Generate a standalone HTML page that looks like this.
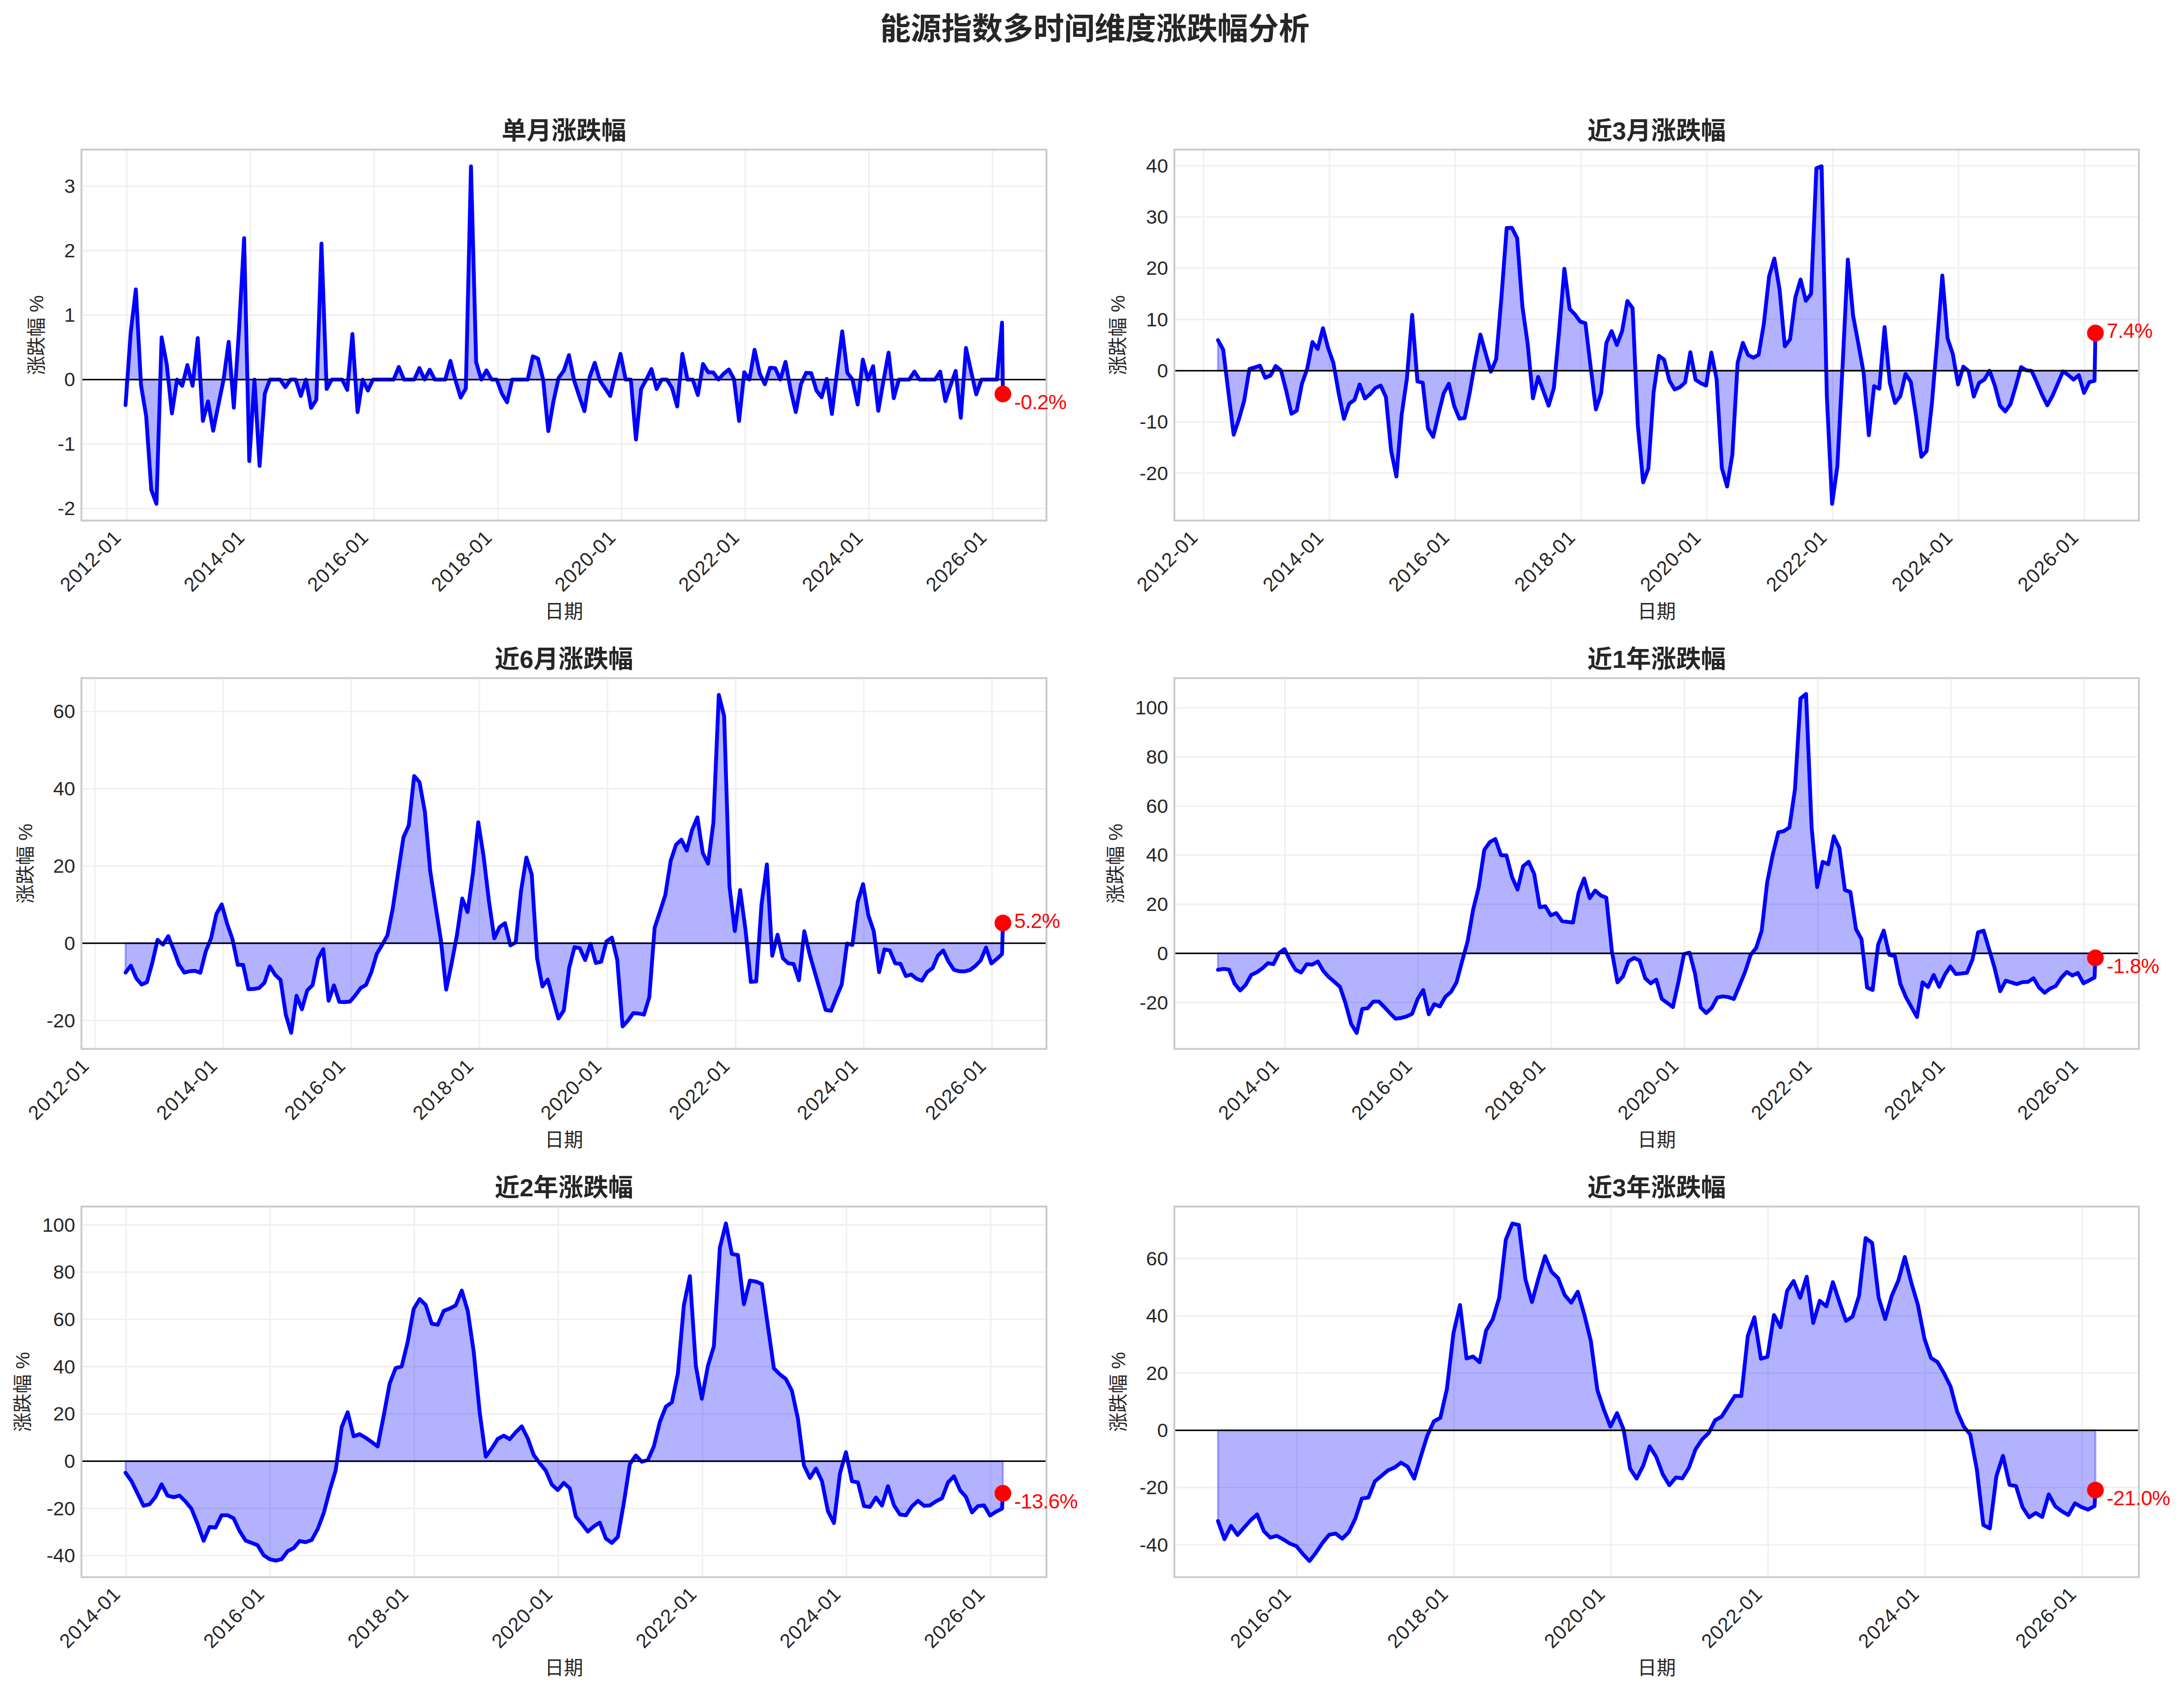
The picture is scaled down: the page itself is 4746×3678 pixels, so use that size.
<!DOCTYPE html><html><head><meta charset="utf-8"><title>能源指数多时间维度涨跌幅分析</title>
<style>html,body{margin:0;padding:0;background:#fff}svg{display:block}text{font-family:"Liberation Sans","Noto Sans CJK SC",sans-serif;fill:#262626}.b{font-weight:bold}.r{fill:#ff0000}</style></head><body>
<svg width="4746" height="3678" viewBox="0 0 4746 3678">
<rect width="4746" height="3678" fill="#fff"/>
<text class="b" x="2379" y="86" font-size="66.67" text-anchor="middle">能源指数多时间维度涨跌幅分析</text>
<g id="chart1">
<path d="M275.5 325.0V1130.9M544.4 325.0V1130.9M813.0 325.0V1130.9M1081.9 325.0V1130.9M1350.5 325.0V1130.9M1619.4 325.0V1130.9M1888.0 325.0V1130.9M2156.9 325.0V1130.9M177.0 1104.6H2274.1M177.0 964.6H2274.1M177.0 824.6H2274.1M177.0 684.6H2274.1M177.0 544.6H2274.1M177.0 404.6H2274.1" stroke="#cccccc" stroke-opacity="0.3" stroke-width="3.33" fill="none"/>
<polygon points="272.8,824.6 272.8,880.2 284.0,722.8 295.2,628.6 306.4,836.2 317.6,903.6 328.8,1064.3 340.0,1094.5 351.2,733.0 362.4,792.1 373.6,898.1 384.8,824.6 396.0,838.3 407.2,793.0 418.5,838.3 429.7,734.4 440.9,914.5 452.1,871.9 463.3,935.8 474.5,879.9 485.7,825.7 496.9,742.7 508.1,885.6 519.3,717.8 530.5,517.4 541.7,1001.7 552.9,824.6 564.1,1012.2 575.3,855.4 586.5,824.6 597.7,824.6 608.9,824.6 620.1,841.1 631.3,824.6 642.5,824.6 653.7,860.3 664.9,824.6 676.1,886.2 687.4,868.6 698.6,529.2 709.8,845.2 721.0,824.6 732.2,824.6 743.4,824.6 754.6,847.0 765.8,725.6 777.0,895.3 788.2,824.6 799.4,848.4 810.6,824.6 821.8,824.6 833.0,824.6 844.2,824.6 855.4,824.6 866.6,797.2 877.8,824.6 889.0,824.6 900.2,824.6 911.4,799.5 922.6,824.6 933.8,803.2 945.0,824.6 956.3,824.6 967.5,824.6 978.7,784.0 989.9,826.6 1001.1,863.7 1012.3,843.9 1023.5,361.3 1034.7,786.7 1045.9,824.6 1057.1,804.6 1068.3,824.6 1079.5,824.6 1090.7,855.4 1101.9,873.9 1113.1,824.6 1124.3,824.6 1135.5,824.6 1146.7,824.6 1157.9,774.2 1169.1,779.0 1180.3,824.6 1191.5,936.6 1202.7,871.9 1213.9,821.1 1225.2,805.4 1236.4,771.5 1247.6,826.6 1258.8,861.0 1270.0,893.2 1281.2,819.7 1292.4,788.1 1303.6,826.6 1314.8,843.5 1326.0,860.3 1337.2,812.3 1348.4,768.7 1359.6,824.6 1370.8,824.6 1382.0,954.9 1393.2,845.2 1404.4,824.6 1415.6,801.8 1426.8,845.2 1438.0,824.6 1449.2,824.6 1460.4,842.8 1471.6,883.0 1482.8,768.7 1494.0,824.6 1505.3,824.6 1516.5,858.2 1527.7,790.7 1538.9,808.6 1550.1,809.2 1561.3,824.6 1572.5,812.0 1583.7,802.6 1594.9,823.2 1606.1,914.5 1617.3,808.6 1628.5,824.6 1639.7,759.9 1650.9,811.4 1662.1,834.8 1673.3,799.0 1684.5,799.8 1695.7,824.6 1706.9,786.1 1718.1,847.0 1729.3,895.3 1740.5,834.8 1751.7,810.0 1762.9,810.6 1774.2,848.4 1785.4,863.1 1796.6,823.2 1807.8,899.4 1819.0,807.5 1830.2,720.0 1841.4,810.0 1852.6,824.6 1863.8,878.8 1875.0,781.2 1886.2,824.6 1897.4,795.5 1908.6,892.5 1919.8,827.4 1931.0,766.1 1942.2,865.1 1953.4,824.6 1964.6,824.6 1975.8,824.6 1987.0,807.2 1998.2,824.6 2009.4,824.6 2020.6,824.6 2031.8,824.6 2043.1,807.2 2054.3,871.4 2065.5,837.8 2076.7,805.8 2087.9,907.6 2099.1,755.9 2110.3,807.0 2121.5,856.8 2132.7,824.6 2143.9,824.6 2155.1,824.6 2166.3,824.6 2177.5,700.8 2179.4,856.0 2179.4,824.6" fill="#0000ff" fill-opacity="0.3" stroke="#0000ff" stroke-opacity="0.3" stroke-width="4.17" stroke-linejoin="round"/>
<polyline points="272.8,880.2 284.0,722.8 295.2,628.6 306.4,836.2 317.6,903.6 328.8,1064.3 340.0,1094.5 351.2,733.0 362.4,792.1 373.6,898.1 384.8,824.6 396.0,838.3 407.2,793.0 418.5,838.3 429.7,734.4 440.9,914.5 452.1,871.9 463.3,935.8 474.5,879.9 485.7,825.7 496.9,742.7 508.1,885.6 519.3,717.8 530.5,517.4 541.7,1001.7 552.9,824.6 564.1,1012.2 575.3,855.4 586.5,824.6 597.7,824.6 608.9,824.6 620.1,841.1 631.3,824.6 642.5,824.6 653.7,860.3 664.9,824.6 676.1,886.2 687.4,868.6 698.6,529.2 709.8,845.2 721.0,824.6 732.2,824.6 743.4,824.6 754.6,847.0 765.8,725.6 777.0,895.3 788.2,824.6 799.4,848.4 810.6,824.6 821.8,824.6 833.0,824.6 844.2,824.6 855.4,824.6 866.6,797.2 877.8,824.6 889.0,824.6 900.2,824.6 911.4,799.5 922.6,824.6 933.8,803.2 945.0,824.6 956.3,824.6 967.5,824.6 978.7,784.0 989.9,826.6 1001.1,863.7 1012.3,843.9 1023.5,361.3 1034.7,786.7 1045.9,824.6 1057.1,804.6 1068.3,824.6 1079.5,824.6 1090.7,855.4 1101.9,873.9 1113.1,824.6 1124.3,824.6 1135.5,824.6 1146.7,824.6 1157.9,774.2 1169.1,779.0 1180.3,824.6 1191.5,936.6 1202.7,871.9 1213.9,821.1 1225.2,805.4 1236.4,771.5 1247.6,826.6 1258.8,861.0 1270.0,893.2 1281.2,819.7 1292.4,788.1 1303.6,826.6 1314.8,843.5 1326.0,860.3 1337.2,812.3 1348.4,768.7 1359.6,824.6 1370.8,824.6 1382.0,954.9 1393.2,845.2 1404.4,824.6 1415.6,801.8 1426.8,845.2 1438.0,824.6 1449.2,824.6 1460.4,842.8 1471.6,883.0 1482.8,768.7 1494.0,824.6 1505.3,824.6 1516.5,858.2 1527.7,790.7 1538.9,808.6 1550.1,809.2 1561.3,824.6 1572.5,812.0 1583.7,802.6 1594.9,823.2 1606.1,914.5 1617.3,808.6 1628.5,824.6 1639.7,759.9 1650.9,811.4 1662.1,834.8 1673.3,799.0 1684.5,799.8 1695.7,824.6 1706.9,786.1 1718.1,847.0 1729.3,895.3 1740.5,834.8 1751.7,810.0 1762.9,810.6 1774.2,848.4 1785.4,863.1 1796.6,823.2 1807.8,899.4 1819.0,807.5 1830.2,720.0 1841.4,810.0 1852.6,824.6 1863.8,878.8 1875.0,781.2 1886.2,824.6 1897.4,795.5 1908.6,892.5 1919.8,827.4 1931.0,766.1 1942.2,865.1 1953.4,824.6 1964.6,824.6 1975.8,824.6 1987.0,807.2 1998.2,824.6 2009.4,824.6 2020.6,824.6 2031.8,824.6 2043.1,807.2 2054.3,871.4 2065.5,837.8 2076.7,805.8 2087.9,907.6 2099.1,755.9 2110.3,807.0 2121.5,856.8 2132.7,824.6 2143.9,824.6 2155.1,824.6 2166.3,824.6 2177.5,700.8 2179.4,856.0" fill="none" stroke="#0000ff" stroke-width="8.33" stroke-linejoin="round" stroke-linecap="round"/>
<path d="M177.0 824.6H2274.1" stroke="#000" stroke-width="3.33"/>
<rect x="177.0" y="325.0" width="2097.1" height="805.9" fill="none" stroke="#cccccc" stroke-width="4.17"/>
<circle cx="2179.4" cy="856.0" r="18.2" fill="#ff0000"/>
<text class="r" x="2203.9" y="889.2" font-size="44.8" letter-spacing="-0.7">-0.2%</text>
<text x="163.4" y="1119.2" font-size="43.0" text-anchor="end">-2</text>
<text x="163.4" y="979.2" font-size="43.0" text-anchor="end">-1</text>
<text x="163.4" y="839.2" font-size="43.0" text-anchor="end">0</text>
<text x="163.4" y="699.2" font-size="43.0" text-anchor="end">1</text>
<text x="163.4" y="559.2" font-size="43.0" text-anchor="end">2</text>
<text x="163.4" y="419.2" font-size="43.0" text-anchor="end">3</text>
<text transform="translate(265.9,1170.1) rotate(-45)" font-size="43.0" letter-spacing="1.2" text-anchor="end">2012-01</text>
<text transform="translate(534.8,1170.1) rotate(-45)" font-size="43.0" letter-spacing="1.2" text-anchor="end">2014-01</text>
<text transform="translate(803.4,1170.1) rotate(-45)" font-size="43.0" letter-spacing="1.2" text-anchor="end">2016-01</text>
<text transform="translate(1072.3,1170.1) rotate(-45)" font-size="43.0" letter-spacing="1.2" text-anchor="end">2018-01</text>
<text transform="translate(1340.9,1170.1) rotate(-45)" font-size="43.0" letter-spacing="1.2" text-anchor="end">2020-01</text>
<text transform="translate(1609.8,1170.1) rotate(-45)" font-size="43.0" letter-spacing="1.2" text-anchor="end">2022-01</text>
<text transform="translate(1878.4,1170.1) rotate(-45)" font-size="43.0" letter-spacing="1.2" text-anchor="end">2024-01</text>
<text transform="translate(2147.3,1170.1) rotate(-45)" font-size="43.0" letter-spacing="1.2" text-anchor="end">2026-01</text>
<text class="b" x="1225.5" y="303.2" font-size="54.17" text-anchor="middle">单月涨跌幅</text>
<text x="1225.5" y="1342.9" font-size="41.67" text-anchor="middle">日期</text>
<text transform="translate(94.0,728.0) rotate(-90)" font-size="41.67" text-anchor="middle">涨跌幅 %</text>
</g>
<g id="chart2">
<path d="M2615.5 325.0V1130.9M2889.1 325.0V1130.9M3162.3 325.0V1130.9M3435.9 325.0V1130.9M3709.2 325.0V1130.9M3982.8 325.0V1130.9M4256.0 325.0V1130.9M4529.6 325.0V1130.9M2552.0 1027.9H4648.0M2552.0 916.6H4648.0M2552.0 805.3H4648.0M2552.0 694.0H4648.0M2552.0 582.7H4648.0M2552.0 471.4H4648.0M2552.0 360.1H4648.0" stroke="#cccccc" stroke-opacity="0.3" stroke-width="3.33" fill="none"/>
<polygon points="2646.7,805.3 2646.7,738.9 2658.1,759.7 2669.5,852.8 2680.9,944.4 2692.3,910.7 2703.7,870.5 2715.1,801.4 2726.5,798.3 2738.0,794.4 2749.4,820.8 2760.8,815.9 2772.2,795.1 2783.6,804.6 2795.0,848.7 2806.4,898.8 2817.8,892.1 2829.2,833.6 2840.6,801.4 2852.0,743.0 2863.4,758.1 2874.8,713.1 2886.2,756.3 2897.6,788.6 2909.1,854.5 2920.5,910.0 2931.9,877.0 2943.3,868.9 2954.7,835.1 2966.1,865.7 2977.5,856.1 2988.9,843.1 3000.3,837.6 3011.7,862.5 3023.1,979.7 3034.5,1035.2 3045.9,901.0 3057.3,822.3 3068.7,684.2 3080.2,828.7 3091.6,831.3 3103.0,930.0 3114.4,949.2 3125.8,900.4 3137.2,854.5 3148.6,833.6 3160.0,881.8 3171.4,909.7 3182.8,908.1 3194.2,851.3 3205.6,785.4 3217.0,726.8 3228.4,767.5 3239.8,807.5 3251.2,780.6 3262.7,646.6 3274.1,495.3 3285.5,495.0 3296.9,517.5 3308.3,666.2 3319.7,746.5 3331.1,865.4 3342.5,818.8 3353.9,849.8 3365.3,881.4 3376.7,842.9 3388.1,719.6 3399.5,583.8 3410.9,671.1 3422.3,682.9 3433.8,698.5 3445.2,702.2 3456.6,797.5 3468.0,889.4 3479.4,854.2 3490.8,744.9 3502.2,719.3 3513.6,749.6 3525.0,719.3 3536.4,653.9 3547.8,669.5 3559.2,924.4 3570.6,1047.9 3582.0,1017.9 3593.4,852.5 3604.9,773.0 3616.3,781.3 3627.7,826.8 3639.1,846.1 3650.5,841.2 3661.9,830.9 3673.3,765.2 3684.7,825.3 3696.1,832.6 3707.5,837.6 3718.9,765.8 3730.3,823.7 3741.7,1016.8 3753.1,1056.8 3764.5,987.8 3776.0,788.3 3787.4,744.9 3798.8,771.2 3810.2,777.0 3821.6,770.8 3833.0,703.1 3844.4,600.5 3855.8,561.6 3867.2,629.4 3878.6,752.3 3890.0,736.9 3901.4,646.1 3912.8,607.2 3924.2,653.4 3935.6,638.3 3947.1,365.7 3958.5,361.2 3969.9,862.1 3981.3,1094.7 3992.7,1013.4 4004.1,794.2 4015.5,563.8 4026.9,685.5 4038.3,746.5 4049.7,809.2 4061.1,945.5 4072.5,839.0 4083.9,844.5 4095.3,710.7 4106.7,831.7 4118.1,875.4 4129.6,860.5 4141.0,812.3 4152.4,829.8 4163.8,904.4 4175.2,992.3 4186.6,980.0 4198.0,878.2 4209.4,743.0 4220.8,598.7 4232.2,735.2 4243.6,769.0 4255.0,835.4 4266.4,796.4 4277.8,806.0 4289.2,861.5 4300.7,831.7 4312.1,824.6 4323.5,805.3 4334.9,837.6 4346.3,881.5 4357.7,893.9 4369.1,877.6 4380.5,838.7 4391.9,797.5 4403.3,804.3 4414.7,805.7 4426.1,830.3 4437.5,857.6 4448.9,880.5 4460.3,859.8 4471.8,833.1 4483.2,806.7 4494.6,815.0 4506.0,824.6 4517.4,815.0 4528.8,853.5 4540.2,830.3 4551.6,827.2 4553.5,723.5 4553.5,805.3" fill="#0000ff" fill-opacity="0.3" stroke="#0000ff" stroke-opacity="0.3" stroke-width="4.17" stroke-linejoin="round"/>
<polyline points="2646.7,738.9 2658.1,759.7 2669.5,852.8 2680.9,944.4 2692.3,910.7 2703.7,870.5 2715.1,801.4 2726.5,798.3 2738.0,794.4 2749.4,820.8 2760.8,815.9 2772.2,795.1 2783.6,804.6 2795.0,848.7 2806.4,898.8 2817.8,892.1 2829.2,833.6 2840.6,801.4 2852.0,743.0 2863.4,758.1 2874.8,713.1 2886.2,756.3 2897.6,788.6 2909.1,854.5 2920.5,910.0 2931.9,877.0 2943.3,868.9 2954.7,835.1 2966.1,865.7 2977.5,856.1 2988.9,843.1 3000.3,837.6 3011.7,862.5 3023.1,979.7 3034.5,1035.2 3045.9,901.0 3057.3,822.3 3068.7,684.2 3080.2,828.7 3091.6,831.3 3103.0,930.0 3114.4,949.2 3125.8,900.4 3137.2,854.5 3148.6,833.6 3160.0,881.8 3171.4,909.7 3182.8,908.1 3194.2,851.3 3205.6,785.4 3217.0,726.8 3228.4,767.5 3239.8,807.5 3251.2,780.6 3262.7,646.6 3274.1,495.3 3285.5,495.0 3296.9,517.5 3308.3,666.2 3319.7,746.5 3331.1,865.4 3342.5,818.8 3353.9,849.8 3365.3,881.4 3376.7,842.9 3388.1,719.6 3399.5,583.8 3410.9,671.1 3422.3,682.9 3433.8,698.5 3445.2,702.2 3456.6,797.5 3468.0,889.4 3479.4,854.2 3490.8,744.9 3502.2,719.3 3513.6,749.6 3525.0,719.3 3536.4,653.9 3547.8,669.5 3559.2,924.4 3570.6,1047.9 3582.0,1017.9 3593.4,852.5 3604.9,773.0 3616.3,781.3 3627.7,826.8 3639.1,846.1 3650.5,841.2 3661.9,830.9 3673.3,765.2 3684.7,825.3 3696.1,832.6 3707.5,837.6 3718.9,765.8 3730.3,823.7 3741.7,1016.8 3753.1,1056.8 3764.5,987.8 3776.0,788.3 3787.4,744.9 3798.8,771.2 3810.2,777.0 3821.6,770.8 3833.0,703.1 3844.4,600.5 3855.8,561.6 3867.2,629.4 3878.6,752.3 3890.0,736.9 3901.4,646.1 3912.8,607.2 3924.2,653.4 3935.6,638.3 3947.1,365.7 3958.5,361.2 3969.9,862.1 3981.3,1094.7 3992.7,1013.4 4004.1,794.2 4015.5,563.8 4026.9,685.5 4038.3,746.5 4049.7,809.2 4061.1,945.5 4072.5,839.0 4083.9,844.5 4095.3,710.7 4106.7,831.7 4118.1,875.4 4129.6,860.5 4141.0,812.3 4152.4,829.8 4163.8,904.4 4175.2,992.3 4186.6,980.0 4198.0,878.2 4209.4,743.0 4220.8,598.7 4232.2,735.2 4243.6,769.0 4255.0,835.4 4266.4,796.4 4277.8,806.0 4289.2,861.5 4300.7,831.7 4312.1,824.6 4323.5,805.3 4334.9,837.6 4346.3,881.5 4357.7,893.9 4369.1,877.6 4380.5,838.7 4391.9,797.5 4403.3,804.3 4414.7,805.7 4426.1,830.3 4437.5,857.6 4448.9,880.5 4460.3,859.8 4471.8,833.1 4483.2,806.7 4494.6,815.0 4506.0,824.6 4517.4,815.0 4528.8,853.5 4540.2,830.3 4551.6,827.2 4553.5,723.5" fill="none" stroke="#0000ff" stroke-width="8.33" stroke-linejoin="round" stroke-linecap="round"/>
<path d="M2552.0 805.3H4648.0" stroke="#000" stroke-width="3.33"/>
<rect x="2552.0" y="325.0" width="2096.0" height="805.9" fill="none" stroke="#cccccc" stroke-width="4.17"/>
<circle cx="4553.5" cy="723.5" r="18.2" fill="#ff0000"/>
<text class="r" x="4578.0" y="734.0" font-size="44.8" letter-spacing="-0.7">7.4%</text>
<text x="2538.4" y="1042.5" font-size="43.0" text-anchor="end">-20</text>
<text x="2538.4" y="931.2" font-size="43.0" text-anchor="end">-10</text>
<text x="2538.4" y="819.9" font-size="43.0" text-anchor="end">0</text>
<text x="2538.4" y="708.6" font-size="43.0" text-anchor="end">10</text>
<text x="2538.4" y="597.3" font-size="43.0" text-anchor="end">20</text>
<text x="2538.4" y="486.0" font-size="43.0" text-anchor="end">30</text>
<text x="2538.4" y="374.7" font-size="43.0" text-anchor="end">40</text>
<text transform="translate(2605.9,1170.1) rotate(-45)" font-size="43.0" letter-spacing="1.2" text-anchor="end">2012-01</text>
<text transform="translate(2879.5,1170.1) rotate(-45)" font-size="43.0" letter-spacing="1.2" text-anchor="end">2014-01</text>
<text transform="translate(3152.7,1170.1) rotate(-45)" font-size="43.0" letter-spacing="1.2" text-anchor="end">2016-01</text>
<text transform="translate(3426.3,1170.1) rotate(-45)" font-size="43.0" letter-spacing="1.2" text-anchor="end">2018-01</text>
<text transform="translate(3699.6,1170.1) rotate(-45)" font-size="43.0" letter-spacing="1.2" text-anchor="end">2020-01</text>
<text transform="translate(3973.2,1170.1) rotate(-45)" font-size="43.0" letter-spacing="1.2" text-anchor="end">2022-01</text>
<text transform="translate(4246.4,1170.1) rotate(-45)" font-size="43.0" letter-spacing="1.2" text-anchor="end">2024-01</text>
<text transform="translate(4520.0,1170.1) rotate(-45)" font-size="43.0" letter-spacing="1.2" text-anchor="end">2026-01</text>
<text class="b" x="3600.0" y="303.2" font-size="54.17" text-anchor="middle">近3月涨跌幅</text>
<text x="3600.0" y="1342.9" font-size="41.67" text-anchor="middle">日期</text>
<text transform="translate(2444.0,728.0) rotate(-90)" font-size="41.67" text-anchor="middle">涨跌幅 %</text>
</g>
<g id="chart3">
<path d="M206.2 1473.2V2278.7M484.8 1473.2V2278.7M763.1 1473.2V2278.7M1041.8 1473.2V2278.7M1320.0 1473.2V2278.7M1598.7 1473.2V2278.7M1877.0 1473.2V2278.7M2155.6 1473.2V2278.7M177.0 2216.9H2274.1M177.0 2049.1H2274.1M177.0 1881.3H2274.1M177.0 1713.5H2274.1M177.0 1545.7H2274.1" stroke="#cccccc" stroke-opacity="0.3" stroke-width="3.33" fill="none"/>
<polygon points="272.8,2049.1 272.8,2112.9 284.4,2097.8 296.0,2125.1 307.6,2138.9 319.3,2133.8 330.9,2091.9 342.5,2041.7 354.1,2052.3 365.7,2033.7 377.3,2063.2 388.9,2095.2 400.6,2112.9 412.2,2110.0 423.8,2109.1 435.4,2113.2 447.0,2067.4 458.6,2038.5 470.2,1985.6 481.9,1964.8 493.5,2006.5 505.1,2040.1 516.7,2096.1 528.3,2096.1 539.9,2148.9 551.5,2148.5 563.2,2146.4 574.8,2134.7 586.4,2099.4 598.0,2117.9 609.6,2128.8 621.2,2205.2 632.8,2243.7 644.4,2163.2 656.1,2192.6 667.7,2151.5 679.3,2140.1 690.9,2082.7 702.5,2061.9 714.1,2174.1 725.7,2140.6 737.4,2176.6 749.0,2177.0 760.6,2175.8 772.2,2162.4 783.8,2146.4 795.4,2139.7 807.0,2112.0 818.7,2072.2 830.3,2053.0 841.9,2032.1 853.5,1973.6 865.1,1895.6 876.7,1819.2 888.3,1793.2 900.0,1685.8 911.6,1699.2 923.2,1763.0 934.8,1891.4 946.4,1967.7 958.0,2041.7 969.6,2149.8 981.3,2093.6 992.9,2032.1 1004.5,1951.8 1016.1,1981.5 1027.7,1897.2 1039.3,1786.5 1050.9,1860.3 1062.6,1958.5 1074.2,2038.5 1085.8,2013.9 1097.4,2005.5 1109.0,2053.9 1120.6,2047.4 1132.2,1935.8 1143.9,1862.8 1155.5,1899.8 1167.1,2081.8 1178.7,2143.1 1190.3,2128.0 1201.9,2170.8 1213.5,2212.7 1225.2,2195.1 1236.8,2102.8 1248.4,2057.7 1260.0,2060.0 1271.6,2085.7 1283.2,2050.4 1294.8,2091.9 1306.4,2089.4 1318.1,2044.9 1329.7,2036.9 1341.3,2085.2 1352.9,2229.9 1364.5,2217.4 1376.1,2201.0 1387.7,2201.8 1399.4,2204.3 1411.0,2166.1 1422.6,2015.5 1434.2,1980.3 1445.8,1944.2 1457.4,1870.4 1469.0,1835.2 1480.7,1824.2 1492.3,1847.7 1503.9,1803.3 1515.5,1775.6 1527.1,1852.8 1538.7,1876.3 1550.3,1786.5 1562.0,1509.6 1573.6,1555.3 1585.2,1925.8 1596.8,2022.5 1608.4,1933.7 1620.0,2019.7 1631.6,2133.0 1643.3,2132.2 1654.9,1964.8 1666.5,1877.9 1678.1,2076.4 1689.7,2030.6 1701.3,2081.8 1712.9,2092.7 1724.6,2094.4 1736.2,2129.6 1747.8,2023.1 1759.4,2073.4 1771.0,2113.7 1782.6,2154.0 1794.2,2194.2 1805.9,2195.9 1817.5,2166.6 1829.1,2138.9 1840.7,2049.8 1852.3,2053.0 1863.9,1959.3 1875.5,1920.7 1887.1,1988.7 1898.8,2023.4 1910.4,2112.0 1922.0,2062.5 1933.6,2064.8 1945.2,2092.7 1956.8,2094.0 1968.4,2120.4 1980.1,2117.1 1991.7,2126.3 2003.3,2130.5 2014.9,2111.6 2026.5,2103.3 2038.1,2075.9 2049.7,2064.8 2061.4,2089.4 2073.0,2107.0 2084.6,2110.0 2096.2,2110.3 2107.8,2107.4 2119.4,2098.6 2131.0,2086.6 2142.7,2058.3 2154.3,2093.1 2165.9,2083.5 2177.5,2072.6 2179.4,2005.2 2179.4,2049.1" fill="#0000ff" fill-opacity="0.3" stroke="#0000ff" stroke-opacity="0.3" stroke-width="4.17" stroke-linejoin="round"/>
<polyline points="272.8,2112.9 284.4,2097.8 296.0,2125.1 307.6,2138.9 319.3,2133.8 330.9,2091.9 342.5,2041.7 354.1,2052.3 365.7,2033.7 377.3,2063.2 388.9,2095.2 400.6,2112.9 412.2,2110.0 423.8,2109.1 435.4,2113.2 447.0,2067.4 458.6,2038.5 470.2,1985.6 481.9,1964.8 493.5,2006.5 505.1,2040.1 516.7,2096.1 528.3,2096.1 539.9,2148.9 551.5,2148.5 563.2,2146.4 574.8,2134.7 586.4,2099.4 598.0,2117.9 609.6,2128.8 621.2,2205.2 632.8,2243.7 644.4,2163.2 656.1,2192.6 667.7,2151.5 679.3,2140.1 690.9,2082.7 702.5,2061.9 714.1,2174.1 725.7,2140.6 737.4,2176.6 749.0,2177.0 760.6,2175.8 772.2,2162.4 783.8,2146.4 795.4,2139.7 807.0,2112.0 818.7,2072.2 830.3,2053.0 841.9,2032.1 853.5,1973.6 865.1,1895.6 876.7,1819.2 888.3,1793.2 900.0,1685.8 911.6,1699.2 923.2,1763.0 934.8,1891.4 946.4,1967.7 958.0,2041.7 969.6,2149.8 981.3,2093.6 992.9,2032.1 1004.5,1951.8 1016.1,1981.5 1027.7,1897.2 1039.3,1786.5 1050.9,1860.3 1062.6,1958.5 1074.2,2038.5 1085.8,2013.9 1097.4,2005.5 1109.0,2053.9 1120.6,2047.4 1132.2,1935.8 1143.9,1862.8 1155.5,1899.8 1167.1,2081.8 1178.7,2143.1 1190.3,2128.0 1201.9,2170.8 1213.5,2212.7 1225.2,2195.1 1236.8,2102.8 1248.4,2057.7 1260.0,2060.0 1271.6,2085.7 1283.2,2050.4 1294.8,2091.9 1306.4,2089.4 1318.1,2044.9 1329.7,2036.9 1341.3,2085.2 1352.9,2229.9 1364.5,2217.4 1376.1,2201.0 1387.7,2201.8 1399.4,2204.3 1411.0,2166.1 1422.6,2015.5 1434.2,1980.3 1445.8,1944.2 1457.4,1870.4 1469.0,1835.2 1480.7,1824.2 1492.3,1847.7 1503.9,1803.3 1515.5,1775.6 1527.1,1852.8 1538.7,1876.3 1550.3,1786.5 1562.0,1509.6 1573.6,1555.3 1585.2,1925.8 1596.8,2022.5 1608.4,1933.7 1620.0,2019.7 1631.6,2133.0 1643.3,2132.2 1654.9,1964.8 1666.5,1877.9 1678.1,2076.4 1689.7,2030.6 1701.3,2081.8 1712.9,2092.7 1724.6,2094.4 1736.2,2129.6 1747.8,2023.1 1759.4,2073.4 1771.0,2113.7 1782.6,2154.0 1794.2,2194.2 1805.9,2195.9 1817.5,2166.6 1829.1,2138.9 1840.7,2049.8 1852.3,2053.0 1863.9,1959.3 1875.5,1920.7 1887.1,1988.7 1898.8,2023.4 1910.4,2112.0 1922.0,2062.5 1933.6,2064.8 1945.2,2092.7 1956.8,2094.0 1968.4,2120.4 1980.1,2117.1 1991.7,2126.3 2003.3,2130.5 2014.9,2111.6 2026.5,2103.3 2038.1,2075.9 2049.7,2064.8 2061.4,2089.4 2073.0,2107.0 2084.6,2110.0 2096.2,2110.3 2107.8,2107.4 2119.4,2098.6 2131.0,2086.6 2142.7,2058.3 2154.3,2093.1 2165.9,2083.5 2177.5,2072.6 2179.4,2005.2" fill="none" stroke="#0000ff" stroke-width="8.33" stroke-linejoin="round" stroke-linecap="round"/>
<path d="M177.0 2049.1H2274.1" stroke="#000" stroke-width="3.33"/>
<rect x="177.0" y="1473.2" width="2097.1" height="805.5" fill="none" stroke="#cccccc" stroke-width="4.17"/>
<circle cx="2179.4" cy="2005.2" r="18.2" fill="#ff0000"/>
<text class="r" x="2203.9" y="2015.7" font-size="44.8" letter-spacing="-0.7">5.2%</text>
<text x="163.4" y="2231.5" font-size="43.0" text-anchor="end">-20</text>
<text x="163.4" y="2063.7" font-size="43.0" text-anchor="end">0</text>
<text x="163.4" y="1895.9" font-size="43.0" text-anchor="end">20</text>
<text x="163.4" y="1728.1" font-size="43.0" text-anchor="end">40</text>
<text x="163.4" y="1560.3" font-size="43.0" text-anchor="end">60</text>
<text transform="translate(196.6,2317.9) rotate(-45)" font-size="43.0" letter-spacing="1.2" text-anchor="end">2012-01</text>
<text transform="translate(475.2,2317.9) rotate(-45)" font-size="43.0" letter-spacing="1.2" text-anchor="end">2014-01</text>
<text transform="translate(753.5,2317.9) rotate(-45)" font-size="43.0" letter-spacing="1.2" text-anchor="end">2016-01</text>
<text transform="translate(1032.2,2317.9) rotate(-45)" font-size="43.0" letter-spacing="1.2" text-anchor="end">2018-01</text>
<text transform="translate(1310.4,2317.9) rotate(-45)" font-size="43.0" letter-spacing="1.2" text-anchor="end">2020-01</text>
<text transform="translate(1589.1,2317.9) rotate(-45)" font-size="43.0" letter-spacing="1.2" text-anchor="end">2022-01</text>
<text transform="translate(1867.4,2317.9) rotate(-45)" font-size="43.0" letter-spacing="1.2" text-anchor="end">2024-01</text>
<text transform="translate(2146.0,2317.9) rotate(-45)" font-size="43.0" letter-spacing="1.2" text-anchor="end">2026-01</text>
<text class="b" x="1225.5" y="1451.4" font-size="54.17" text-anchor="middle">近6月涨跌幅</text>
<text x="1225.5" y="2490.7" font-size="41.67" text-anchor="middle">日期</text>
<text transform="translate(70.0,1875.9) rotate(-90)" font-size="41.67" text-anchor="middle">涨跌幅 %</text>
</g>
<g id="chart4">
<path d="M2792.3 1473.2V2278.7M3081.6 1473.2V2278.7M3371.2 1473.2V2278.7M3660.5 1473.2V2278.7M3950.1 1473.2V2278.7M4239.4 1473.2V2278.7M4529.0 1473.2V2278.7M2552.0 2177.9H4648.0M2552.0 2071.2H4648.0M2552.0 1964.5H4648.0M2552.0 1857.8H4648.0M2552.0 1751.1H4648.0M2552.0 1644.4H4648.0M2552.0 1537.7H4648.0" stroke="#cccccc" stroke-opacity="0.3" stroke-width="3.33" fill="none"/>
<polygon points="2646.7,2071.2 2646.7,2106.9 2658.8,2104.8 2670.8,2106.4 2682.9,2137.1 2694.9,2151.8 2707.0,2139.5 2719.0,2118.1 2731.1,2112.3 2743.2,2103.7 2755.2,2092.5 2767.3,2094.7 2779.3,2070.7 2791.4,2061.9 2803.4,2086.7 2815.5,2106.9 2827.5,2112.8 2839.6,2094.7 2851.7,2095.7 2863.7,2088.8 2875.8,2109.6 2887.8,2122.9 2899.9,2133.1 2911.9,2143.8 2924.0,2180.0 2936.1,2224.3 2948.1,2244.1 2960.2,2191.8 2972.2,2190.4 2984.3,2175.8 2996.3,2175.8 3008.4,2188.0 3020.4,2200.8 3032.5,2213.1 3044.6,2211.5 3056.6,2208.3 3068.7,2202.4 3080.7,2170.2 3092.8,2150.7 3104.8,2203.5 3116.9,2181.6 3129.0,2186.4 3141.0,2165.4 3153.1,2155.0 3165.1,2134.2 3177.2,2088.8 3189.2,2045.1 3201.3,1975.7 3213.3,1927.7 3225.4,1846.6 3237.5,1829.5 3249.5,1822.6 3261.6,1857.8 3273.6,1858.3 3285.7,1905.3 3297.7,1932.5 3309.8,1881.8 3321.9,1872.2 3333.9,1898.6 3346.0,1970.9 3358.0,1968.8 3370.1,1988.5 3382.1,1983.7 3394.2,2000.8 3406.2,2002.9 3418.3,2004.0 3430.4,1939.4 3442.4,1908.5 3454.5,1951.2 3466.5,1934.6 3478.6,1945.3 3490.6,1950.1 3502.7,2065.9 3514.8,2134.2 3526.8,2121.3 3538.9,2088.3 3550.9,2081.2 3563.0,2086.7 3575.0,2125.1 3587.1,2136.3 3599.2,2128.3 3611.2,2170.2 3623.3,2179.0 3635.3,2188.0 3647.4,2133.1 3659.4,2072.8 3671.5,2069.6 3683.5,2115.5 3695.6,2188.6 3707.7,2200.8 3719.7,2189.6 3731.8,2167.0 3743.8,2164.6 3755.9,2166.2 3767.9,2170.2 3780.0,2141.1 3792.1,2111.7 3804.1,2074.7 3816.2,2059.5 3828.2,2022.1 3840.3,1916.5 3852.3,1856.7 3864.4,1808.2 3876.4,1805.5 3888.5,1797.5 3900.6,1714.8 3912.6,1517.4 3924.7,1507.6 3936.7,1795.9 3948.8,1927.2 3960.8,1872.2 3972.9,1877.5 3985.0,1816.7 3997.0,1842.3 4009.1,1933.6 4021.1,1937.8 4033.2,2018.4 4045.2,2040.3 4057.3,2145.4 4069.3,2150.7 4081.4,2052.0 4093.5,2021.6 4105.5,2074.4 4117.6,2077.1 4129.6,2137.4 4141.7,2166.2 4153.7,2188.0 4165.8,2209.4 4177.9,2134.2 4189.9,2144.3 4202.0,2118.1 4214.0,2143.8 4226.1,2118.1 4238.1,2099.5 4250.2,2116.0 4262.2,2114.9 4274.3,2113.3 4286.4,2084.5 4298.4,2025.6 4310.5,2022.1 4322.5,2062.1 4334.6,2103.7 4346.6,2153.4 4358.7,2130.4 4370.8,2134.2 4382.8,2137.9 4394.9,2133.6 4406.9,2133.1 4419.0,2125.1 4431.0,2145.4 4443.1,2156.6 4455.1,2147.5 4467.2,2142.2 4479.3,2124.0 4491.3,2111.7 4503.4,2119.2 4515.4,2113.9 4527.5,2136.0 4539.5,2130.2 4551.6,2123.5 4553.5,2081.0 4553.5,2071.2" fill="#0000ff" fill-opacity="0.3" stroke="#0000ff" stroke-opacity="0.3" stroke-width="4.17" stroke-linejoin="round"/>
<polyline points="2646.7,2106.9 2658.8,2104.8 2670.8,2106.4 2682.9,2137.1 2694.9,2151.8 2707.0,2139.5 2719.0,2118.1 2731.1,2112.3 2743.2,2103.7 2755.2,2092.5 2767.3,2094.7 2779.3,2070.7 2791.4,2061.9 2803.4,2086.7 2815.5,2106.9 2827.5,2112.8 2839.6,2094.7 2851.7,2095.7 2863.7,2088.8 2875.8,2109.6 2887.8,2122.9 2899.9,2133.1 2911.9,2143.8 2924.0,2180.0 2936.1,2224.3 2948.1,2244.1 2960.2,2191.8 2972.2,2190.4 2984.3,2175.8 2996.3,2175.8 3008.4,2188.0 3020.4,2200.8 3032.5,2213.1 3044.6,2211.5 3056.6,2208.3 3068.7,2202.4 3080.7,2170.2 3092.8,2150.7 3104.8,2203.5 3116.9,2181.6 3129.0,2186.4 3141.0,2165.4 3153.1,2155.0 3165.1,2134.2 3177.2,2088.8 3189.2,2045.1 3201.3,1975.7 3213.3,1927.7 3225.4,1846.6 3237.5,1829.5 3249.5,1822.6 3261.6,1857.8 3273.6,1858.3 3285.7,1905.3 3297.7,1932.5 3309.8,1881.8 3321.9,1872.2 3333.9,1898.6 3346.0,1970.9 3358.0,1968.8 3370.1,1988.5 3382.1,1983.7 3394.2,2000.8 3406.2,2002.9 3418.3,2004.0 3430.4,1939.4 3442.4,1908.5 3454.5,1951.2 3466.5,1934.6 3478.6,1945.3 3490.6,1950.1 3502.7,2065.9 3514.8,2134.2 3526.8,2121.3 3538.9,2088.3 3550.9,2081.2 3563.0,2086.7 3575.0,2125.1 3587.1,2136.3 3599.2,2128.3 3611.2,2170.2 3623.3,2179.0 3635.3,2188.0 3647.4,2133.1 3659.4,2072.8 3671.5,2069.6 3683.5,2115.5 3695.6,2188.6 3707.7,2200.8 3719.7,2189.6 3731.8,2167.0 3743.8,2164.6 3755.9,2166.2 3767.9,2170.2 3780.0,2141.1 3792.1,2111.7 3804.1,2074.7 3816.2,2059.5 3828.2,2022.1 3840.3,1916.5 3852.3,1856.7 3864.4,1808.2 3876.4,1805.5 3888.5,1797.5 3900.6,1714.8 3912.6,1517.4 3924.7,1507.6 3936.7,1795.9 3948.8,1927.2 3960.8,1872.2 3972.9,1877.5 3985.0,1816.7 3997.0,1842.3 4009.1,1933.6 4021.1,1937.8 4033.2,2018.4 4045.2,2040.3 4057.3,2145.4 4069.3,2150.7 4081.4,2052.0 4093.5,2021.6 4105.5,2074.4 4117.6,2077.1 4129.6,2137.4 4141.7,2166.2 4153.7,2188.0 4165.8,2209.4 4177.9,2134.2 4189.9,2144.3 4202.0,2118.1 4214.0,2143.8 4226.1,2118.1 4238.1,2099.5 4250.2,2116.0 4262.2,2114.9 4274.3,2113.3 4286.4,2084.5 4298.4,2025.6 4310.5,2022.1 4322.5,2062.1 4334.6,2103.7 4346.6,2153.4 4358.7,2130.4 4370.8,2134.2 4382.8,2137.9 4394.9,2133.6 4406.9,2133.1 4419.0,2125.1 4431.0,2145.4 4443.1,2156.6 4455.1,2147.5 4467.2,2142.2 4479.3,2124.0 4491.3,2111.7 4503.4,2119.2 4515.4,2113.9 4527.5,2136.0 4539.5,2130.2 4551.6,2123.5 4553.5,2081.0" fill="none" stroke="#0000ff" stroke-width="8.33" stroke-linejoin="round" stroke-linecap="round"/>
<path d="M2552.0 2071.2H4648.0" stroke="#000" stroke-width="3.33"/>
<rect x="2552.0" y="1473.2" width="2096.0" height="805.5" fill="none" stroke="#cccccc" stroke-width="4.17"/>
<circle cx="4553.5" cy="2081.0" r="18.2" fill="#ff0000"/>
<text class="r" x="4578.0" y="2114.2" font-size="44.8" letter-spacing="-0.7">-1.8%</text>
<text x="2538.4" y="2192.5" font-size="43.0" text-anchor="end">-20</text>
<text x="2538.4" y="2085.8" font-size="43.0" text-anchor="end">0</text>
<text x="2538.4" y="1979.1" font-size="43.0" text-anchor="end">20</text>
<text x="2538.4" y="1872.4" font-size="43.0" text-anchor="end">40</text>
<text x="2538.4" y="1765.7" font-size="43.0" text-anchor="end">60</text>
<text x="2538.4" y="1659.0" font-size="43.0" text-anchor="end">80</text>
<text x="2538.4" y="1552.3" font-size="43.0" text-anchor="end">100</text>
<text transform="translate(2782.7,2317.9) rotate(-45)" font-size="43.0" letter-spacing="1.2" text-anchor="end">2014-01</text>
<text transform="translate(3072.0,2317.9) rotate(-45)" font-size="43.0" letter-spacing="1.2" text-anchor="end">2016-01</text>
<text transform="translate(3361.6,2317.9) rotate(-45)" font-size="43.0" letter-spacing="1.2" text-anchor="end">2018-01</text>
<text transform="translate(3650.9,2317.9) rotate(-45)" font-size="43.0" letter-spacing="1.2" text-anchor="end">2020-01</text>
<text transform="translate(3940.5,2317.9) rotate(-45)" font-size="43.0" letter-spacing="1.2" text-anchor="end">2022-01</text>
<text transform="translate(4229.8,2317.9) rotate(-45)" font-size="43.0" letter-spacing="1.2" text-anchor="end">2024-01</text>
<text transform="translate(4519.4,2317.9) rotate(-45)" font-size="43.0" letter-spacing="1.2" text-anchor="end">2026-01</text>
<text class="b" x="3600.0" y="1451.4" font-size="54.17" text-anchor="middle">近1年涨跌幅</text>
<text x="3600.0" y="2490.7" font-size="41.67" text-anchor="middle">日期</text>
<text transform="translate(2439.0,1875.9) rotate(-90)" font-size="41.67" text-anchor="middle">涨跌幅 %</text>
</g>
<g id="chart5">
<path d="M274.2 2621.2V3426.3M587.1 2621.2V3426.3M900.4 2621.2V3426.3M1213.3 2621.2V3426.3M1526.6 2621.2V3426.3M1839.5 2621.2V3426.3M2152.8 2621.2V3426.3M177.0 3379.6H2274.1M177.0 3277.0H2274.1M177.0 3174.3H2274.1M177.0 3071.6H2274.1M177.0 2969.0H2274.1M177.0 2866.3H2274.1M177.0 2763.7H2274.1M177.0 2661.0H2274.1" stroke="#cccccc" stroke-opacity="0.3" stroke-width="3.33" fill="none"/>
<polygon points="272.8,3174.3 272.8,3199.5 285.8,3217.9 298.9,3244.6 311.9,3271.3 325.0,3268.0 338.0,3251.8 351.1,3224.6 364.1,3249.2 377.2,3252.6 390.2,3249.2 403.3,3262.1 416.3,3278.2 429.4,3310.8 442.4,3347.3 455.4,3317.5 468.5,3318.5 481.5,3291.8 494.6,3291.8 507.6,3298.5 520.7,3326.2 533.7,3346.8 546.8,3351.9 559.8,3357.0 572.9,3378.6 585.9,3387.3 598.9,3390.4 612.0,3387.3 625.0,3369.9 638.1,3363.2 651.1,3347.8 664.2,3350.4 677.2,3345.7 690.3,3322.1 703.3,3287.7 716.4,3237.9 729.4,3194.8 742.5,3100.4 755.5,3068.0 768.5,3120.4 781.6,3115.8 794.6,3123.5 807.7,3132.7 820.7,3142.5 833.8,3075.7 846.8,3005.4 859.9,2972.1 872.9,2968.5 886.0,2915.1 899.0,2843.7 912.0,2822.2 925.1,2835.0 938.1,2875.6 951.2,2878.1 964.2,2847.8 977.3,2842.7 990.3,2836.0 1003.4,2803.7 1016.4,2847.8 1029.5,2937.7 1042.5,3069.1 1055.6,3164.5 1068.6,3146.6 1081.6,3126.0 1094.7,3118.9 1107.7,3126.6 1120.8,3111.4 1133.8,3098.6 1146.9,3125.0 1159.9,3161.0 1173.0,3178.9 1186.0,3194.8 1199.1,3225.1 1212.1,3237.2 1225.2,3221.5 1238.2,3233.3 1251.2,3294.4 1264.3,3310.3 1277.3,3327.3 1290.4,3316.0 1303.4,3307.8 1316.5,3342.4 1329.5,3351.9 1342.6,3339.1 1355.6,3265.4 1368.7,3180.5 1381.7,3162.0 1394.7,3175.6 1407.8,3171.7 1420.8,3142.5 1433.9,3089.1 1446.9,3056.2 1460.0,3046.5 1473.0,2984.4 1486.1,2835.5 1499.1,2772.4 1512.2,2968.0 1525.2,3038.8 1538.3,2967.4 1551.3,2924.8 1564.3,2710.8 1577.4,2657.9 1590.4,2724.1 1603.5,2726.7 1616.5,2833.5 1629.6,2782.1 1642.6,2784.2 1655.7,2789.3 1668.7,2881.2 1681.8,2972.8 1694.8,2985.7 1707.8,2995.9 1720.9,3021.3 1733.9,3081.9 1747.0,3183.5 1760.0,3210.7 1773.1,3190.2 1786.1,3217.4 1799.2,3283.1 1812.2,3308.8 1825.3,3201.2 1838.3,3154.8 1851.4,3217.9 1864.4,3220.5 1877.4,3271.8 1890.5,3273.9 1903.5,3253.3 1916.6,3270.8 1929.6,3228.7 1942.7,3270.3 1955.7,3290.3 1968.8,3291.8 1981.8,3272.3 1994.9,3260.5 2007.9,3271.3 2020.9,3270.3 2034.0,3261.6 2047.0,3255.1 2060.1,3220.5 2073.1,3207.2 2086.2,3237.4 2099.2,3252.3 2112.3,3285.7 2125.3,3271.8 2138.4,3270.3 2151.4,3292.4 2164.5,3284.1 2177.5,3277.5 2179.4,3244.1 2179.4,3174.3" fill="#0000ff" fill-opacity="0.3" stroke="#0000ff" stroke-opacity="0.3" stroke-width="4.17" stroke-linejoin="round"/>
<polyline points="272.8,3199.5 285.8,3217.9 298.9,3244.6 311.9,3271.3 325.0,3268.0 338.0,3251.8 351.1,3224.6 364.1,3249.2 377.2,3252.6 390.2,3249.2 403.3,3262.1 416.3,3278.2 429.4,3310.8 442.4,3347.3 455.4,3317.5 468.5,3318.5 481.5,3291.8 494.6,3291.8 507.6,3298.5 520.7,3326.2 533.7,3346.8 546.8,3351.9 559.8,3357.0 572.9,3378.6 585.9,3387.3 598.9,3390.4 612.0,3387.3 625.0,3369.9 638.1,3363.2 651.1,3347.8 664.2,3350.4 677.2,3345.7 690.3,3322.1 703.3,3287.7 716.4,3237.9 729.4,3194.8 742.5,3100.4 755.5,3068.0 768.5,3120.4 781.6,3115.8 794.6,3123.5 807.7,3132.7 820.7,3142.5 833.8,3075.7 846.8,3005.4 859.9,2972.1 872.9,2968.5 886.0,2915.1 899.0,2843.7 912.0,2822.2 925.1,2835.0 938.1,2875.6 951.2,2878.1 964.2,2847.8 977.3,2842.7 990.3,2836.0 1003.4,2803.7 1016.4,2847.8 1029.5,2937.7 1042.5,3069.1 1055.6,3164.5 1068.6,3146.6 1081.6,3126.0 1094.7,3118.9 1107.7,3126.6 1120.8,3111.4 1133.8,3098.6 1146.9,3125.0 1159.9,3161.0 1173.0,3178.9 1186.0,3194.8 1199.1,3225.1 1212.1,3237.2 1225.2,3221.5 1238.2,3233.3 1251.2,3294.4 1264.3,3310.3 1277.3,3327.3 1290.4,3316.0 1303.4,3307.8 1316.5,3342.4 1329.5,3351.9 1342.6,3339.1 1355.6,3265.4 1368.7,3180.5 1381.7,3162.0 1394.7,3175.6 1407.8,3171.7 1420.8,3142.5 1433.9,3089.1 1446.9,3056.2 1460.0,3046.5 1473.0,2984.4 1486.1,2835.5 1499.1,2772.4 1512.2,2968.0 1525.2,3038.8 1538.3,2967.4 1551.3,2924.8 1564.3,2710.8 1577.4,2657.9 1590.4,2724.1 1603.5,2726.7 1616.5,2833.5 1629.6,2782.1 1642.6,2784.2 1655.7,2789.3 1668.7,2881.2 1681.8,2972.8 1694.8,2985.7 1707.8,2995.9 1720.9,3021.3 1733.9,3081.9 1747.0,3183.5 1760.0,3210.7 1773.1,3190.2 1786.1,3217.4 1799.2,3283.1 1812.2,3308.8 1825.3,3201.2 1838.3,3154.8 1851.4,3217.9 1864.4,3220.5 1877.4,3271.8 1890.5,3273.9 1903.5,3253.3 1916.6,3270.8 1929.6,3228.7 1942.7,3270.3 1955.7,3290.3 1968.8,3291.8 1981.8,3272.3 1994.9,3260.5 2007.9,3271.3 2020.9,3270.3 2034.0,3261.6 2047.0,3255.1 2060.1,3220.5 2073.1,3207.2 2086.2,3237.4 2099.2,3252.3 2112.3,3285.7 2125.3,3271.8 2138.4,3270.3 2151.4,3292.4 2164.5,3284.1 2177.5,3277.5 2179.4,3244.1" fill="none" stroke="#0000ff" stroke-width="8.33" stroke-linejoin="round" stroke-linecap="round"/>
<path d="M177.0 3174.3H2274.1" stroke="#000" stroke-width="3.33"/>
<rect x="177.0" y="2621.2" width="2097.1" height="805.1" fill="none" stroke="#cccccc" stroke-width="4.17"/>
<circle cx="2179.4" cy="3244.1" r="18.2" fill="#ff0000"/>
<text class="r" x="2203.9" y="3277.3" font-size="44.8" letter-spacing="-0.7">-13.6%</text>
<text x="163.4" y="3394.2" font-size="43.0" text-anchor="end">-40</text>
<text x="163.4" y="3291.6" font-size="43.0" text-anchor="end">-20</text>
<text x="163.4" y="3188.9" font-size="43.0" text-anchor="end">0</text>
<text x="163.4" y="3086.2" font-size="43.0" text-anchor="end">20</text>
<text x="163.4" y="2983.6" font-size="43.0" text-anchor="end">40</text>
<text x="163.4" y="2880.9" font-size="43.0" text-anchor="end">60</text>
<text x="163.4" y="2778.3" font-size="43.0" text-anchor="end">80</text>
<text x="163.4" y="2675.6" font-size="43.0" text-anchor="end">100</text>
<text transform="translate(264.6,3465.5) rotate(-45)" font-size="43.0" letter-spacing="1.2" text-anchor="end">2014-01</text>
<text transform="translate(577.5,3465.5) rotate(-45)" font-size="43.0" letter-spacing="1.2" text-anchor="end">2016-01</text>
<text transform="translate(890.8,3465.5) rotate(-45)" font-size="43.0" letter-spacing="1.2" text-anchor="end">2018-01</text>
<text transform="translate(1203.7,3465.5) rotate(-45)" font-size="43.0" letter-spacing="1.2" text-anchor="end">2020-01</text>
<text transform="translate(1517.0,3465.5) rotate(-45)" font-size="43.0" letter-spacing="1.2" text-anchor="end">2022-01</text>
<text transform="translate(1829.9,3465.5) rotate(-45)" font-size="43.0" letter-spacing="1.2" text-anchor="end">2024-01</text>
<text transform="translate(2143.2,3465.5) rotate(-45)" font-size="43.0" letter-spacing="1.2" text-anchor="end">2026-01</text>
<text class="b" x="1225.5" y="2599.4" font-size="54.17" text-anchor="middle">近2年涨跌幅</text>
<text x="1225.5" y="3638.3" font-size="41.67" text-anchor="middle">日期</text>
<text transform="translate(64.0,3023.8) rotate(-90)" font-size="41.67" text-anchor="middle">涨跌幅 %</text>
</g>
<g id="chart6">
<path d="M2818.3 2621.2V3426.3M3159.7 2621.2V3426.3M3500.7 2621.2V3426.3M3842.2 2621.2V3426.3M4183.2 2621.2V3426.3M4524.6 2621.2V3426.3M2552.0 3355.9H4648.0M2552.0 3231.6H4648.0M2552.0 3107.3H4648.0M2552.0 2983.0H4648.0M2552.0 2858.7H4648.0M2552.0 2734.4H4648.0" stroke="#cccccc" stroke-opacity="0.3" stroke-width="3.33" fill="none"/>
<polygon points="2646.7,3107.3 2646.7,3304.3 2660.9,3343.8 2675.1,3314.9 2689.3,3334.8 2703.6,3318.6 2717.8,3302.5 2732.0,3290.0 2746.2,3326.1 2760.4,3340.4 2774.6,3336.6 2788.9,3344.4 2803.1,3353.4 2817.3,3359.0 2831.5,3376.4 2845.7,3391.3 2859.9,3372.7 2874.2,3351.5 2888.4,3334.1 2902.6,3331.7 2916.8,3342.8 2931.0,3328.6 2945.2,3299.3 2959.4,3255.5 2973.7,3253.4 2987.9,3217.9 3002.1,3206.1 3016.3,3194.3 3030.5,3188.1 3044.7,3177.5 3059.0,3186.5 3073.2,3212.3 3087.4,3164.5 3101.6,3119.1 3115.8,3088.0 3130.0,3080.0 3144.2,3017.8 3158.5,2896.0 3172.7,2835.1 3186.9,2951.3 3201.1,2947.0 3215.3,2959.4 3229.5,2890.4 3243.8,2866.2 3258.0,2818.9 3272.2,2693.4 3286.4,2658.0 3300.6,2661.4 3314.8,2779.1 3329.1,2828.6 3343.3,2776.7 3357.5,2728.8 3371.7,2763.0 3385.9,2776.7 3400.1,2813.3 3414.3,2830.1 3428.6,2806.2 3442.8,2855.6 3457.0,2913.4 3471.2,3019.7 3485.4,3062.6 3499.6,3099.2 3513.9,3070.0 3528.1,3105.4 3542.3,3190.6 3556.5,3212.3 3570.7,3184.4 3584.9,3142.1 3599.2,3165.1 3613.4,3203.0 3627.6,3226.6 3641.8,3209.8 3656.0,3211.7 3670.2,3188.4 3684.4,3148.9 3698.7,3127.2 3712.9,3113.5 3727.1,3085.5 3741.3,3077.5 3755.5,3055.1 3769.7,3032.7 3784.0,3032.7 3798.2,2902.2 3812.4,2861.8 3826.6,2951.9 3840.8,2947.6 3855.0,2856.8 3869.2,2883.6 3883.5,2804.6 3897.7,2782.9 3911.9,2819.5 3926.1,2773.6 3940.3,2874.2 3954.5,2825.8 3968.8,2838.2 3983.0,2785.4 3997.2,2828.6 4011.4,2869.6 4025.6,2860.6 4039.8,2815.2 4054.1,2689.7 4068.3,2700.2 4082.5,2819.5 4096.7,2865.5 4110.9,2815.2 4125.1,2782.3 4139.3,2730.7 4153.6,2787.2 4167.8,2835.1 4182.0,2908.4 4196.2,2950.1 4210.4,2959.1 4224.6,2983.6 4238.9,3012.5 4253.1,3066.6 4267.3,3098.9 4281.5,3116.6 4295.7,3191.2 4309.9,3313.0 4324.1,3320.5 4338.4,3206.7 4352.6,3162.6 4366.8,3225.7 4381.0,3228.5 4395.2,3274.5 4409.4,3296.2 4423.7,3286.9 4437.9,3295.6 4452.1,3246.5 4466.3,3272.6 4480.5,3283.2 4494.7,3291.3 4509.0,3265.8 4523.2,3274.2 4537.4,3279.5 4551.6,3272.0 4553.5,3237.2 4553.5,3107.3" fill="#0000ff" fill-opacity="0.3" stroke="#0000ff" stroke-opacity="0.3" stroke-width="4.17" stroke-linejoin="round"/>
<polyline points="2646.7,3304.3 2660.9,3343.8 2675.1,3314.9 2689.3,3334.8 2703.6,3318.6 2717.8,3302.5 2732.0,3290.0 2746.2,3326.1 2760.4,3340.4 2774.6,3336.6 2788.9,3344.4 2803.1,3353.4 2817.3,3359.0 2831.5,3376.4 2845.7,3391.3 2859.9,3372.7 2874.2,3351.5 2888.4,3334.1 2902.6,3331.7 2916.8,3342.8 2931.0,3328.6 2945.2,3299.3 2959.4,3255.5 2973.7,3253.4 2987.9,3217.9 3002.1,3206.1 3016.3,3194.3 3030.5,3188.1 3044.7,3177.5 3059.0,3186.5 3073.2,3212.3 3087.4,3164.5 3101.6,3119.1 3115.8,3088.0 3130.0,3080.0 3144.2,3017.8 3158.5,2896.0 3172.7,2835.1 3186.9,2951.3 3201.1,2947.0 3215.3,2959.4 3229.5,2890.4 3243.8,2866.2 3258.0,2818.9 3272.2,2693.4 3286.4,2658.0 3300.6,2661.4 3314.8,2779.1 3329.1,2828.6 3343.3,2776.7 3357.5,2728.8 3371.7,2763.0 3385.9,2776.7 3400.1,2813.3 3414.3,2830.1 3428.6,2806.2 3442.8,2855.6 3457.0,2913.4 3471.2,3019.7 3485.4,3062.6 3499.6,3099.2 3513.9,3070.0 3528.1,3105.4 3542.3,3190.6 3556.5,3212.3 3570.7,3184.4 3584.9,3142.1 3599.2,3165.1 3613.4,3203.0 3627.6,3226.6 3641.8,3209.8 3656.0,3211.7 3670.2,3188.4 3684.4,3148.9 3698.7,3127.2 3712.9,3113.5 3727.1,3085.5 3741.3,3077.5 3755.5,3055.1 3769.7,3032.7 3784.0,3032.7 3798.2,2902.2 3812.4,2861.8 3826.6,2951.9 3840.8,2947.6 3855.0,2856.8 3869.2,2883.6 3883.5,2804.6 3897.7,2782.9 3911.9,2819.5 3926.1,2773.6 3940.3,2874.2 3954.5,2825.8 3968.8,2838.2 3983.0,2785.4 3997.2,2828.6 4011.4,2869.6 4025.6,2860.6 4039.8,2815.2 4054.1,2689.7 4068.3,2700.2 4082.5,2819.5 4096.7,2865.5 4110.9,2815.2 4125.1,2782.3 4139.3,2730.7 4153.6,2787.2 4167.8,2835.1 4182.0,2908.4 4196.2,2950.1 4210.4,2959.1 4224.6,2983.6 4238.9,3012.5 4253.1,3066.6 4267.3,3098.9 4281.5,3116.6 4295.7,3191.2 4309.9,3313.0 4324.1,3320.5 4338.4,3206.7 4352.6,3162.6 4366.8,3225.7 4381.0,3228.5 4395.2,3274.5 4409.4,3296.2 4423.7,3286.9 4437.9,3295.6 4452.1,3246.5 4466.3,3272.6 4480.5,3283.2 4494.7,3291.3 4509.0,3265.8 4523.2,3274.2 4537.4,3279.5 4551.6,3272.0 4553.5,3237.2" fill="none" stroke="#0000ff" stroke-width="8.33" stroke-linejoin="round" stroke-linecap="round"/>
<path d="M2552.0 3107.3H4648.0" stroke="#000" stroke-width="3.33"/>
<rect x="2552.0" y="2621.2" width="2096.0" height="805.1" fill="none" stroke="#cccccc" stroke-width="4.17"/>
<circle cx="4553.5" cy="3237.2" r="18.2" fill="#ff0000"/>
<text class="r" x="4578.0" y="3270.4" font-size="44.8" letter-spacing="-0.7">-21.0%</text>
<text x="2538.4" y="3370.5" font-size="43.0" text-anchor="end">-40</text>
<text x="2538.4" y="3246.2" font-size="43.0" text-anchor="end">-20</text>
<text x="2538.4" y="3121.9" font-size="43.0" text-anchor="end">0</text>
<text x="2538.4" y="2997.6" font-size="43.0" text-anchor="end">20</text>
<text x="2538.4" y="2873.3" font-size="43.0" text-anchor="end">40</text>
<text x="2538.4" y="2749.0" font-size="43.0" text-anchor="end">60</text>
<text transform="translate(2808.7,3465.5) rotate(-45)" font-size="43.0" letter-spacing="1.2" text-anchor="end">2016-01</text>
<text transform="translate(3150.1,3465.5) rotate(-45)" font-size="43.0" letter-spacing="1.2" text-anchor="end">2018-01</text>
<text transform="translate(3491.1,3465.5) rotate(-45)" font-size="43.0" letter-spacing="1.2" text-anchor="end">2020-01</text>
<text transform="translate(3832.6,3465.5) rotate(-45)" font-size="43.0" letter-spacing="1.2" text-anchor="end">2022-01</text>
<text transform="translate(4173.6,3465.5) rotate(-45)" font-size="43.0" letter-spacing="1.2" text-anchor="end">2024-01</text>
<text transform="translate(4515.0,3465.5) rotate(-45)" font-size="43.0" letter-spacing="1.2" text-anchor="end">2026-01</text>
<text class="b" x="3600.0" y="2599.4" font-size="54.17" text-anchor="middle">近3年涨跌幅</text>
<text x="3600.0" y="3638.3" font-size="41.67" text-anchor="middle">日期</text>
<text transform="translate(2445.0,3023.8) rotate(-90)" font-size="41.67" text-anchor="middle">涨跌幅 %</text>
</g>
</svg></body></html>
